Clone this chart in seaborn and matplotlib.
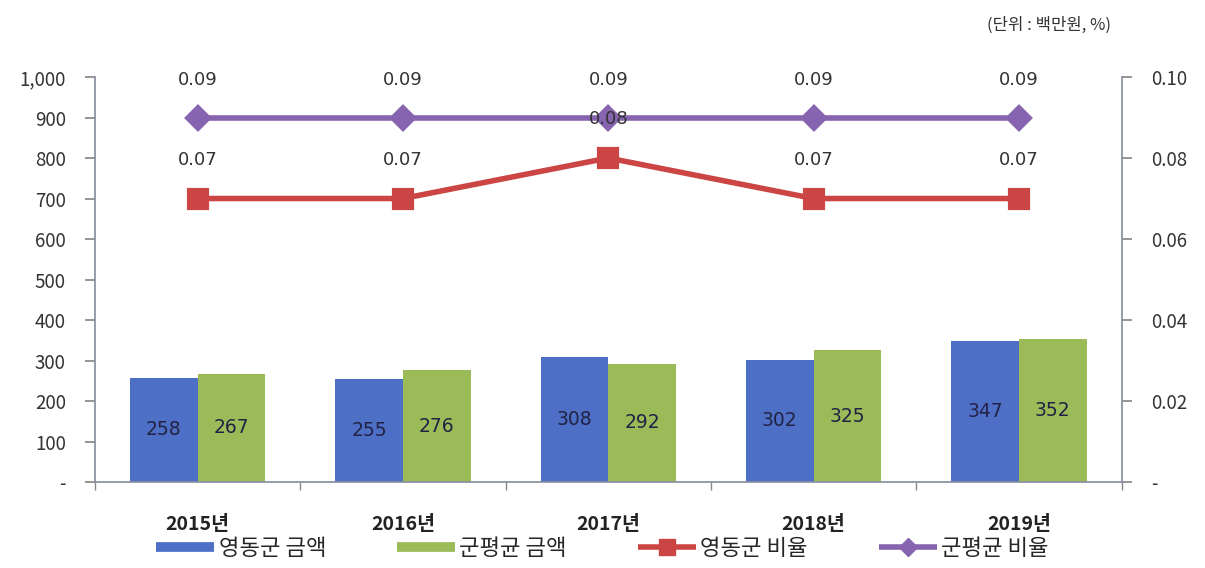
import pandas as pd
import seaborn as sns
import matplotlib.pyplot as plt
from matplotlib.lines import Line2D
from matplotlib.ticker import FuncFormatter

years = ["2015년", "2016년", "2017년", "2018년", "2019년"]
yeongdong_amt = [258, 255, 308, 302, 347]
gunpyeong_amt = [267, 276, 292, 325, 352]
yeongdong_ratio = [0.07, 0.07, 0.08, 0.07, 0.07]
gunpyeong_ratio = [0.09, 0.09, 0.09, 0.09, 0.09]
series_names = ["영동군 금액", "군평균 금액", "영동군 비율", "군평균 비율"]

blue = "#4E6FC6"
green = "#9BBB59"
red = "#CC4545"
purple = "#8664B0"
txt = "#333333"

sns.set_theme(style="white")
plt.rcParams["font.family"] = ["Noto Sans CJK KR", "DejaVu Sans"]

bars = pd.DataFrame({
    "year": years * 2,
    "amount": yeongdong_amt + gunpyeong_amt,
    "series": [series_names[0]] * 5 + [series_names[1]] * 5,
})

fig = plt.figure(figsize=(12.05, 5.68), dpi=100)
ax = fig.add_axes([0.0788, 0.1514, 0.852, 0.7130])

sns.barplot(data=bars, x="year", y="amount", hue="series", palette=[blue, green],
            width=0.66, gap=0, ax=ax, legend=False, saturation=1, linewidth=0)
for cont in ax.containers:
    ax.bar_label(cont, label_type="center", fontsize=13.5, color="#222244", family="DejaVu Sans")

ax.set_ylim(0, 1000)
ax.set_yticks(range(0, 1001, 100))
ax.yaxis.set_major_formatter(FuncFormatter(lambda v, p: "-" if v == 0 else f"{int(v):,}"))
ax.set_xlim(-0.5, 4.5)
ax.set_xlabel("")
ax.set_ylabel("")
ax.set_xticks([i + 0.5 for i in range(-1, 5)], minor=True)
ax.tick_params(axis="x", which="major", length=0, pad=24, labelsize=14, labelcolor="#222222")
ax.tick_params(axis="x", which="minor", length=6, direction="out", color="#888888", bottom=True)
ax.tick_params(axis="y", length=7, direction="out", color="#888888", left=True,
               labelsize=13.5, labelcolor=txt, pad=14)
for lab in ax.get_xticklabels():
    lab.set_fontweight("bold")
for s in ["top", "right"]:
    ax.spines[s].set_visible(False)
ax.spines["left"].set_color("#8890A0")
ax.spines["bottom"].set_color("#8890A0")

ax2 = ax.twinx()
sns.pointplot(x=years, y=yeongdong_ratio, ax=ax2, color=red, markers="s",
              linewidth=4, markersize=13)
sns.pointplot(x=years, y=gunpyeong_ratio, ax=ax2, color=purple, markers="D",
              linewidth=4, markersize=11)
ax2.set_ylim(0, 0.10)
ax2.set_yticks([0, 0.02, 0.04, 0.06, 0.08, 0.10])
ax2.yaxis.set_major_formatter(FuncFormatter(lambda v, p: "-" if v == 0 else f"{v:.2f}"))
ax2.tick_params(axis="y", length=7, direction="out", color="#888888", right=True,
                labelsize=13.5, labelcolor=txt, pad=14)
ax2.set_xlim(-0.5, 4.5)
for s in ["top", "left", "bottom"]:
    ax2.spines[s].set_visible(False)
ax2.spines["right"].set_color("#8890A0")

for i, v in enumerate(yeongdong_ratio):
    ax2.annotate(f"{v:.2f}", (i, v), xytext=(0, 28), textcoords="offset points",
                 ha="center", va="center", fontsize=13, color=txt, family="DejaVu Sans")
for i, v in enumerate(gunpyeong_ratio):
    ax2.annotate(f"{v:.2f}", (i, v), xytext=(0, 27), textcoords="offset points",
                 ha="center", va="center", fontsize=13, color=txt, family="DejaVu Sans")

handles = [
    Line2D([], [], color=blue, lw=7, solid_capstyle="butt"),
    Line2D([], [], color=green, lw=7, solid_capstyle="butt"),
    Line2D([], [], color=red, lw=4, marker="s", markersize=12, solid_capstyle="butt"),
    Line2D([], [], color=purple, lw=4, marker="D", markersize=9, solid_capstyle="butt"),
]
fig.legend(handles, series_names, loc="center", bbox_to_anchor=(0.5, 0.035), ncol=4,
           frameon=False, fontsize=16, handlelength=2.6, columnspacing=3.2, handletextpad=0.2)

fig.text(0.922, 0.955, "(단위 : 백만원, %)", ha="right", va="center", fontsize=12, color=txt)

fig.savefig("out.png", dpi=100)
